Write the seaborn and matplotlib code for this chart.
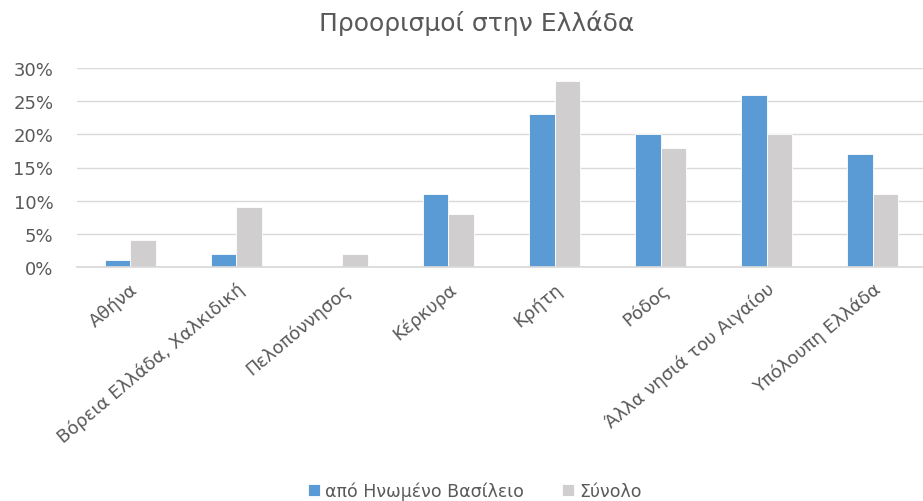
import matplotlib
matplotlib.use("Agg")
import matplotlib.pyplot as plt
import seaborn as sns
import pandas as pd
from matplotlib.ticker import FuncFormatter

categories = ["Αθήνα", "Βόρεια Ελλάδα, Χαλκιδική", "Πελοπόννησος", "Κέρκυρα",
              "Κρήτη", "Ρόδος", "Άλλα νησιά του Αιγαίου", "Υπόλουπη Ελλάδα"]
uk_values = [1, 2, 0, 11, 23, 20, 26, 17]
total_values = [4, 9, 2, 8, 28, 18, 20, 11]
series_names = ["από Ηνωμένο Βασίλειο", "Σύνολο"]
yticks = [0, 5, 10, 15, 20, 25, 30]

df = pd.DataFrame({
    "cat": categories * 2,
    "val": uk_values + total_values,
    "series": [series_names[0]] * len(categories) + [series_names[1]] * len(categories),
})

sns.set_theme(style="white")
plt.rcParams["font.family"] = ["DejaVu Sans"]

fig = plt.figure(figsize=(9.23, 5.02), dpi=100)
ax = fig.add_axes([77 / 923, 1 - 268 / 502, 849 / 923, 199 / 502])
sns.barplot(data=df, x="cat", y="val", hue="series", order=categories,
            hue_order=series_names, palette=["#5B9BD5", "#D0CECE"], saturation=1,
            width=0.48, ax=ax, edgecolor="white", linewidth=0.6, legend=True)

ax.set_ylim(0, 30)
ax.set_yticks(yticks)
ax.yaxis.set_major_formatter(FuncFormatter(lambda v, p: f"{int(v)}%"))
ax.grid(axis="y", color="#D9D9D9", linewidth=1)
ax.set_axisbelow(True)
for s in ["top", "right", "left"]:
    ax.spines[s].set_visible(False)
ax.spines["bottom"].set_color("#D9D9D9")
ax.set_xlabel("")
ax.set_ylabel("")
ax.tick_params(axis="y", labelsize=13, colors="#595959", length=0, pad=17)
ax.tick_params(axis="x", labelsize=13, colors="#595959", length=0, pad=9)
for lbl in ax.get_xticklabels():
    lbl.set_rotation(40)
    lbl.set_ha("right")
    lbl.set_rotation_mode("anchor")

fig.text(477 / 923, 1 - 23 / 502, "Προορισμοί στην Ελλάδα", fontsize=18,
         color="#595959", ha="center", va="center")

leg = ax.legend(loc="center", bbox_to_anchor=(475 / 923, 1 - 492 / 502),
                bbox_transform=fig.transFigure, ncol=2,
                frameon=False, fontsize=12.5, handlelength=0.7, handleheight=0.7,
                columnspacing=2.2, handletextpad=0.3)
for t in leg.get_texts():
    t.set_color("#595959")

fig.savefig("out.png", dpi=100, facecolor="white")
